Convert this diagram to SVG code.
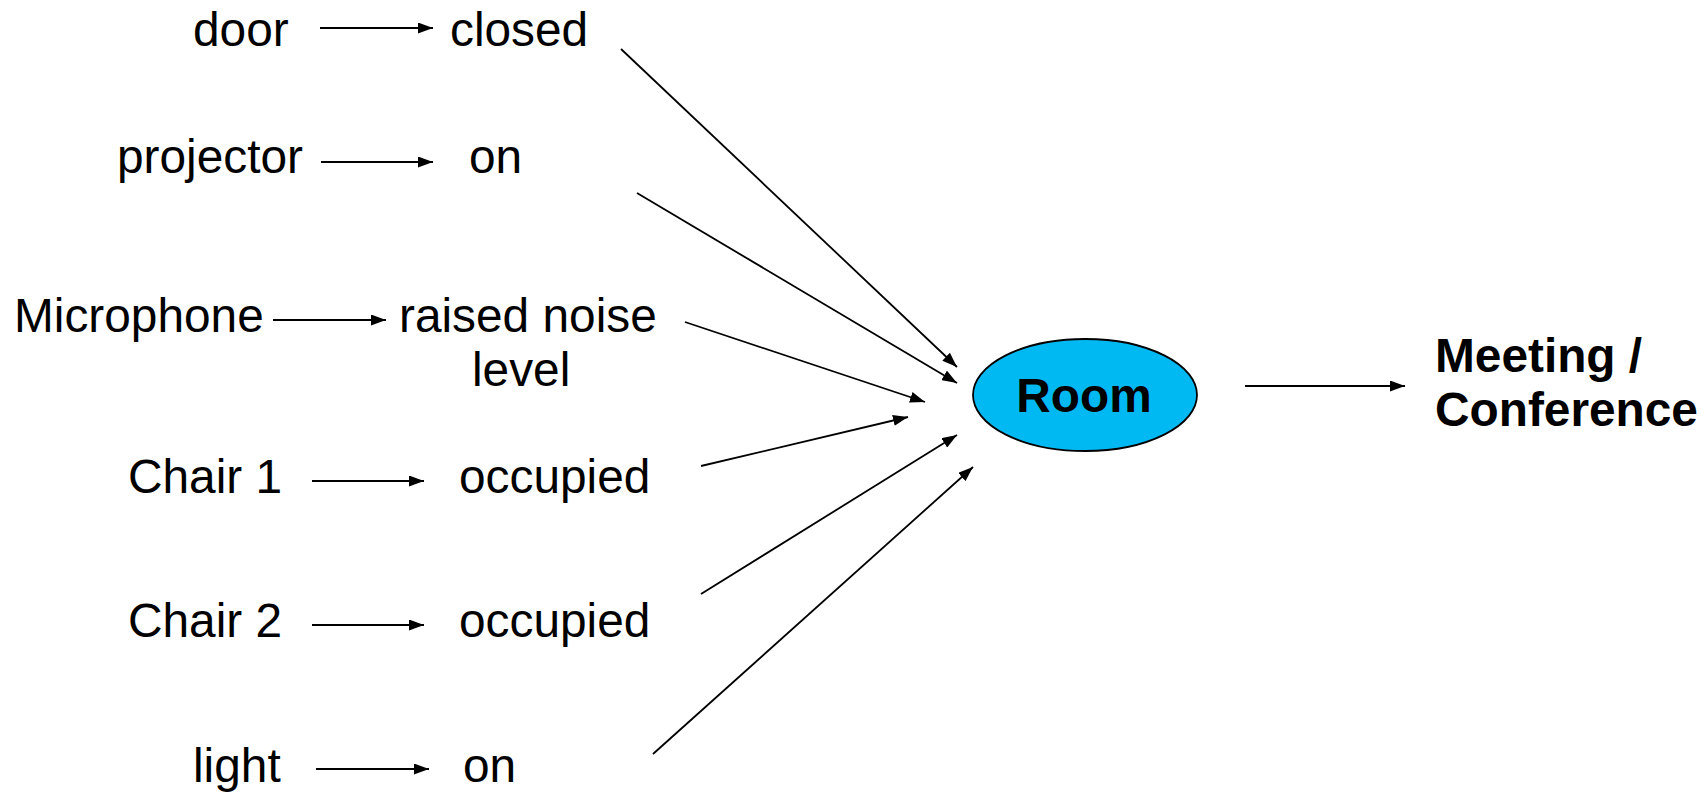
<svg xmlns="http://www.w3.org/2000/svg" width="1708" height="793" viewBox="0 0 1708 793">
<style>
.t{font-family:"Liberation Sans",Arial,sans-serif;font-size:47.8px;fill:#000}
.b{font-weight:bold}
.c{stroke:#000;stroke-width:1.8;fill:none;marker-end:url(#ah)}
</style>
<defs>
<marker id="ah" markerUnits="userSpaceOnUse" markerWidth="15" markerHeight="11" refX="15" refY="5.5" orient="auto">
<path d="M0,0 L15,5.5 L0,11 z" fill="#000"/>
</marker>
</defs>
<rect width="1708" height="793" fill="#fff"/>
<g id="connectors">
<line class="c" x1="320" y1="28" x2="433" y2="28"/>
<line class="c" x1="321" y1="162" x2="433" y2="162"/>
<line class="c" x1="273" y1="320" x2="386" y2="320"/>
<line class="c" x1="312" y1="481" x2="424" y2="481"/>
<line class="c" x1="312" y1="625" x2="424" y2="625"/>
<line class="c" x1="316" y1="769" x2="429" y2="769"/>
<line class="c" x1="621" y1="49" x2="957" y2="367"/>
<line class="c" x1="637" y1="193" x2="957" y2="383"/>
<line class="c" x1="685" y1="322" x2="925" y2="402"/>
<line class="c" x1="701" y1="466" x2="908" y2="417"/>
<line class="c" x1="701" y1="594" x2="957" y2="435"/>
<line class="c" x1="653" y1="754" x2="973" y2="467"/>
<line class="c" x1="1245" y1="386" x2="1405" y2="386"/>
</g>
<g id="door"><text class="t" x="193" y="46">door</text></g>
<g id="closed"><text class="t" x="450" y="46">closed</text></g>
<g id="projector"><text class="t" x="117" y="173">projector</text></g>
<g id="on1"><text class="t" x="469" y="173">on</text></g>
<g id="microphone"><text class="t" x="14" y="332">Microphone</text></g>
<g id="noise"><text class="t" x="399" y="332">raised noise</text><text class="t" x="472" y="386">level</text></g>
<g id="chair1"><text class="t" x="128" y="493">Chair 1</text></g>
<g id="occupied1"><text class="t" x="459" y="493">occupied</text></g>
<g id="chair2"><text class="t" x="128" y="637">Chair 2</text></g>
<g id="occupied2"><text class="t" x="459" y="637">occupied</text></g>
<g id="light"><text class="t" x="193" y="782">light</text></g>
<g id="on2"><text class="t" x="463" y="782">on</text></g>
<g id="room">
<ellipse cx="1085" cy="395" rx="112" ry="56" fill="#00B9F2" stroke="#000" stroke-width="1.8"/>
<text class="t b" x="1084" y="412" text-anchor="middle">Room</text>
</g>
<g id="meeting"><text class="t b" x="1435" y="372">Meeting /</text><text class="t b" x="1435" y="426">Conference</text></g>
</svg>
